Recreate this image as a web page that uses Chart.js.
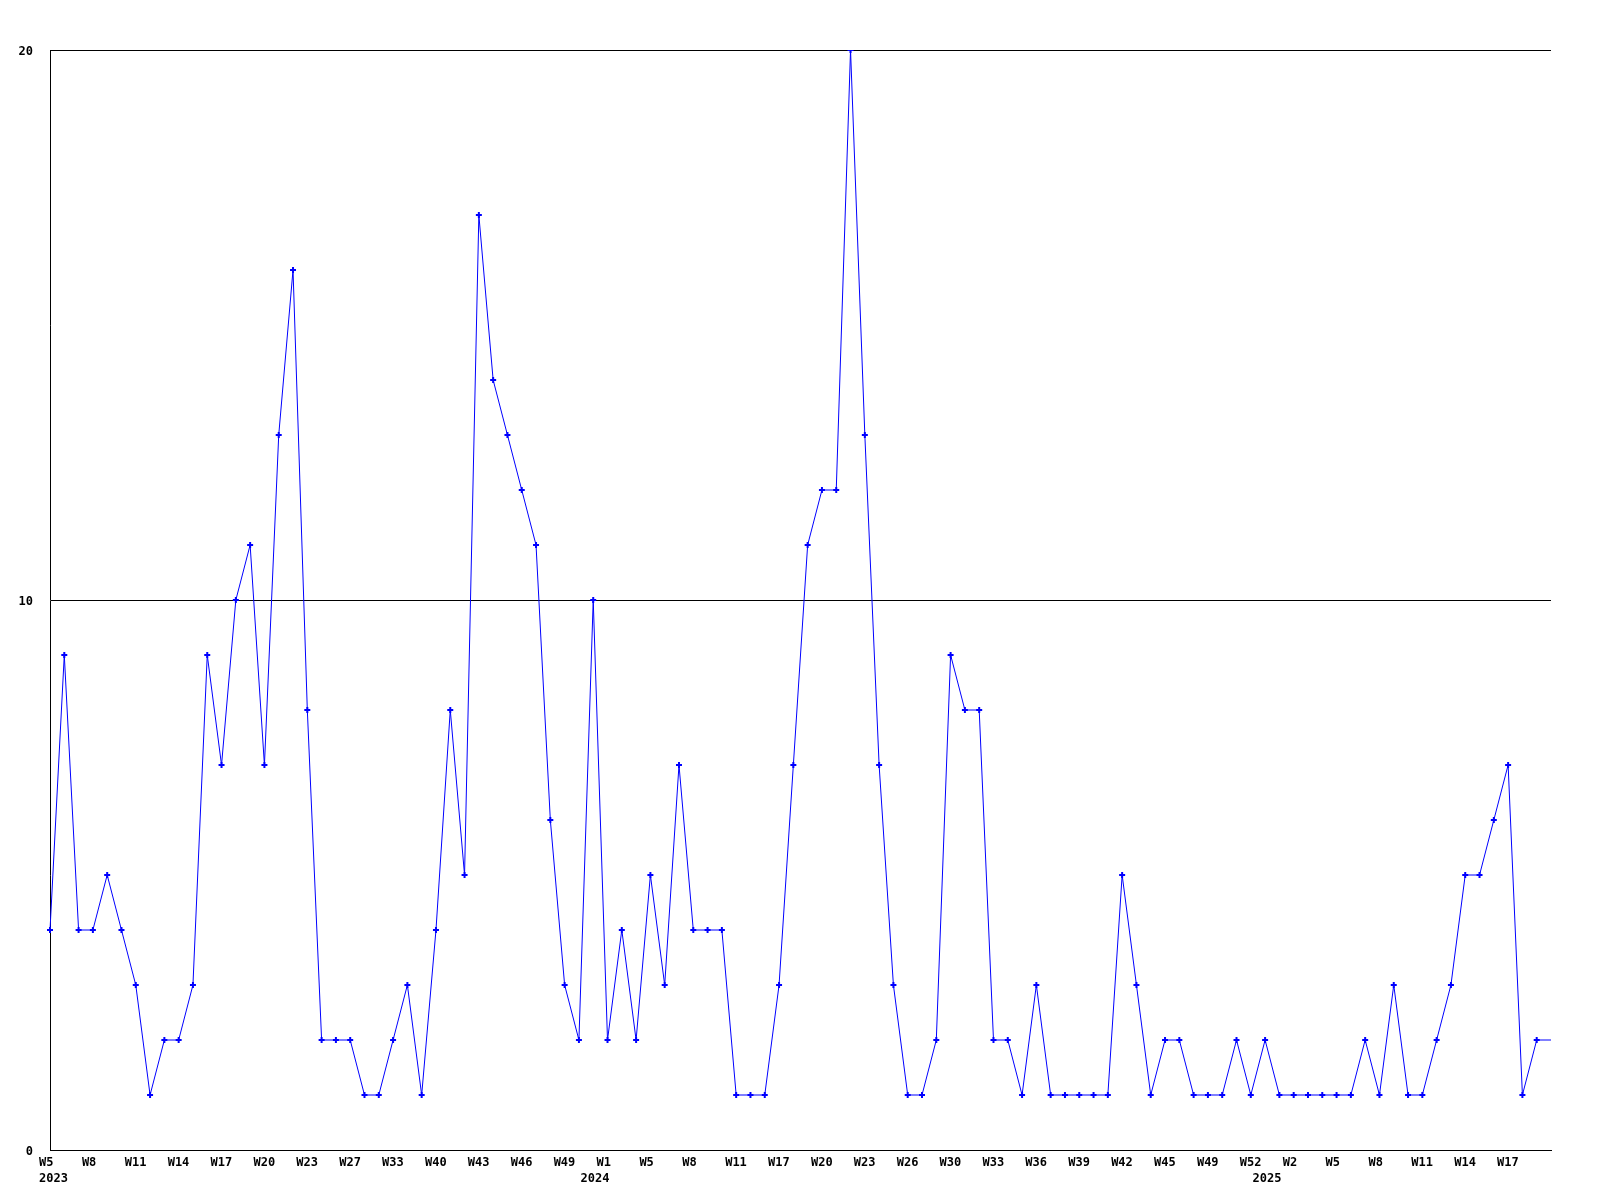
<!DOCTYPE html>
<html>
<head>
<meta charset="utf-8">
<script src="https://cdn.jsdelivr.net/npm/chart.js@4"></script>
<style>
  html, body { margin: 0; padding: 0; background: #fff; }
  #wrap { width: 1600px; height: 1200px; position: relative; }
</style>
</head>
<body>
<div id="wrap"><canvas id="chartCanvas"></canvas></div>
<script>
// weeks with data, 2023 W5 .. 2025 W20
var weekLabels = [
  "W5", "W6", "W7", "W8", "W9", "W10", "W11", "W12", "W13", "W14",
  "W15", "W16", "W17", "W18", "W19", "W20", "W21", "W22", "W23", "W24",
  "W25", "W27", "W29", "W31", "W33", "W35", "W37", "W40", "W41", "W42",
  "W43", "W44", "W45", "W46", "W47", "W48", "W49", "W50", "W52",
  // 2024
  "W1", "W3", "W4", "W5", "W6", "W7", "W8", "W9", "W10", "W11",
  "W13", "W15", "W17", "W18", "W19", "W20", "W21", "W22", "W23", "W24",
  "W25", "W26", "W27", "W28", "W30", "W31", "W32", "W33", "W34", "W35",
  "W36", "W37", "W38", "W39", "W40", "W41", "W42", "W43", "W44", "W45",
  "W46", "W47", "W49", "W50", "W51", "W52", "W53",
  // 2025
  "W1", "W2", "W3", "W4", "W5", "W6", "W7", "W8", "W9", "W10",
  "W11", "W12", "W13", "W14", "W15", "W16", "W17", "W18", "W19", "W20"
];

var yearLabels = ["2023", "2024", "2025"];

var counts = [
  4, 9, 4, 4, 5, 4, 3, 1, 2, 2,
  3, 9, 7, 10, 11, 7, 13, 16, 8, 2,
  2, 2, 1, 1, 2, 3, 1, 4, 8, 5,
  17, 14, 13, 12, 11, 6, 3, 2, 10,
  2, 4, 2, 5, 3, 7, 4, 4, 4, 1,
  1, 1, 3, 7, 11, 12, 12, 20, 13, 7,
  3, 1, 1, 2, 9, 8, 8, 2, 2, 1,
  3, 1, 1, 1, 1, 1, 5, 3, 1, 2,
  2, 1, 1, 1, 2, 1, 2,
  1, 1, 1, 1, 1, 1, 2, 1, 3, 1,
  1, 2, 3, 5, 5, 6, 7, 1, 2, 2
];

var yTicks = [0, 10, 20];

var labelFont = "bold 12px 'DejaVu Sans Mono', monospace";

// week labels every 3rd point, year under the first week of each year
var axisLabels = {
  id: "axisLabels",
  afterDraw: function (chart) {
    var ctx = chart.ctx;
    var xs = chart.scales.x;
    var base = xs.top;
    ctx.save();
    ctx.font = labelFont;
    ctx.fillStyle = "#000";
    ctx.textBaseline = "alphabetic";

    ctx.textAlign = "left";
    for (var i = 0; i < weekLabels.length - 1; i += 3) {
      var px = xs.getPixelForValue(i);
      ctx.fillText(weekLabels[i], px - 11, base + 16);
    }

    ctx.textAlign = "right";
    var y = 0;
    for (var j = 0; j < weekLabels.length; j++) {
      if (j == 0 || weekLabels[j] == "W1") {
        var lbl = yearLabels[y++];
        var w = ctx.measureText(lbl).width;
        var x = Math.max(xs.getPixelForValue(j) + 2, xs.left - 11 + w);
        ctx.fillText(lbl, x, base + 32);
      }
    }
    ctx.restore();
  },
};

var ctx = document.getElementById("chartCanvas").getContext("2d");

var chart = new Chart(ctx, {
  type: "line",
  data: {
    labels: weekLabels,
    datasets: [
      {
        data: counts,
        borderColor: "#0000ff",
        backgroundColor: "#0000ff",
        borderWidth: 1,
        pointStyle: "cross",
        pointRadius: function (c) {
          // no marker on the point sitting on the right edge
          return c.dataIndex == counts.length - 1 ? 0 : 3;
        },
        pointBorderWidth: 2,
        pointHoverRadius: 3,
        tension: 0,
        fill: false,
      },
    ],
  },
  options: {
    responsive: true,
    maintainAspectRatio: false,
    animation: false,
    events: [],
    layout: {
      padding: { top: 50, right: 49, left: 0, bottom: 0 },
    },
    scales: {
      x: {
        type: "category",
        offset: false,
        grid: { display: false },
        border: { display: true, color: "#000", width: 1 },
        ticks: { display: false },
        afterFit: function (s) {
          s.height = 50;
        },
      },
      y: {
        min: 0,
        max: 20,
        afterBuildTicks: function (s) {
          s.ticks = yTicks.map(function (v) {
            return { value: v };
          });
        },
        grid: {
          color: "#000",
          lineWidth: 1,
          drawTicks: false,
        },
        border: { display: true, color: "#000", width: 1 },
        ticks: {
          padding: 17,
          labelOffset: 2,
          color: "#000",
          font: { family: "'DejaVu Sans Mono', monospace", size: 12, weight: "bold" },
        },
        afterFit: function (s) {
          s.width = 50;
        },
      },
    },
    plugins: {
      legend: { display: false },
      tooltip: { enabled: false },
    },
  },
  plugins: [axisLabels],
});
</script>
</body>
</html>
